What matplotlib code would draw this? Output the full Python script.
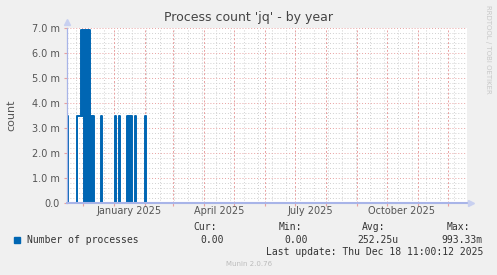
import numpy as np
import pandas as pd
import matplotlib; matplotlib.use("Agg")
import matplotlib.pyplot as plt

# ---- data (daily averages) ----
START, END = "2024-11-15", "2025-12-18"
EVENT_DAYS = ["2024-11-15", "2024-11-25", "2024-11-26", "2024-11-27", "2024-11-28",
              "2024-11-29", "2024-11-30", "2024-12-01", "2024-12-03", "2024-12-05",
              "2024-12-07", "2024-12-09", "2024-12-11", "2024-12-19",
              "2025-01-02", "2025-01-06", "2025-01-14", "2025-01-16", "2025-01-18",
              "2025-01-22", "2025-02-01"]
EVENT_VALS = [0.00347, 0.00347, 0.00347, 0.00347, 0.00347,
              0.00694, 0.00347, 0.00694, 0.00694, 0.00694,
              0.00694, 0.00347, 0.00347, 0.00347,
              0.00347, 0.00347, 0.00347, 0.00347, 0.00347,
              0.00347, 0.00347]
YTICKS = [0.0, 0.001, 0.002, 0.003, 0.004, 0.005, 0.006, 0.007]
YLABELS = ["0.0", "1.0 m", "2.0 m", "3.0 m", "4.0 m", "5.0 m", "6.0 m", "7.0 m"]
XLABELS = ["January 2025", "April 2025", "July 2025", "October 2025"]
XLABEL_POS = ["2025-01-16", "2025-04-16", "2025-07-16", "2025-10-16"]
LEGEND = "Number of processes"
STATS_HDR = ["Cur:", "Min:", "Avg:", "Max:"]
STATS_VAL = ["0.00", "0.00", "252.25u", "993.33m"]

W, H = 497, 275
BG = "#f0f0f0"
LINE = "#0066b3"
AXC = "#a8b4e8"
MAJ = "#e8a0a0"
MIN = "#d0d0d0"

s = pd.Series(0.0, index=pd.date_range(START, END, freq="D"))
s[pd.to_datetime(EVENT_DAYS)] = EVENT_VALS

fig = plt.figure(figsize=(W / 100, H / 100), dpi=100, facecolor=BG)
ax = fig.add_axes([67 / W, 1 - 203 / H, 400 / W, 175 / H], facecolor="white")

def fx(px): return px / W
def fy(py): return 1 - py / H

x0 = pd.Timestamp("2024-11-15"); x1 = x0 + pd.Timedelta(days=400)
ax.set_xlim(x0, x1); ax.set_ylim(0, 0.007)

# grid
for y in np.arange(0.0002, 0.007, 0.0002):
    if abs(y * 1000 - round(y * 1000)) > 1e-6:
        ax.axhline(y, color=MIN, lw=0.7, ls=(0, (1, 2)), zorder=0)
for y in YTICKS[1:]:
    ax.axhline(y, color=MAJ, lw=0.7, ls=(0, (1, 2)), zorder=0.5)
for d in pd.date_range("2024-11-24", x1, freq="14D"):
    ax.axvline(d, color=MIN, lw=0.7, ls=(0, (1, 2)), zorder=0)
months = pd.date_range("2024-12-01", x1, freq="MS")
for d in months:
    ax.axvline(d, color=MAJ, lw=0.7, ls=(0, (2, 2)), zorder=0.5)

ax.step(s.index, s.values, where="post", color=LINE, lw=1.4, zorder=2)

for sp in ["top", "right"]:
    ax.spines[sp].set_visible(False)
ax.spines["left"].set_color(AXC); ax.spines["left"].set_linewidth(0.9)
ax.spines["bottom"].set_color(AXC); ax.spines["bottom"].set_linewidth(1.5)
ax.spines["left"].set_zorder(3); ax.spines["bottom"].set_zorder(3)

ax.set_yticks(YTICKS, YLABELS)
ax.tick_params(axis="y", length=2, color=MAJ, labelsize=7, labelcolor="#555555", pad=3)
ax.set_xticks(months)
ax.set_xticklabels([""] * len(months))
ax.tick_params(axis="x", length=2, color=MAJ)
for lab, pos in zip(XLABELS, XLABEL_POS):
    ax.text(pd.Timestamp(pos), -0.00012, lab, ha="center", va="top", fontsize=7,
            color="#555555")

# axis arrows
ax.plot([x0], [0.00726], marker="^", ms=4, color="#c8d0f0", clip_on=False, zorder=4)
ax.plot([x1 + pd.Timedelta(days=4)], [0], marker=">", ms=4, color="#c8d0f0",
        clip_on=False, zorder=4)

fig.text(0.5, fy(18), "Process count 'jq' - by year", ha="center", va="center",
         fontsize=9, color="#444444")
fig.text(fx(11), fy(115), "count", rotation=90, ha="center", va="center",
         fontsize=8, color="#555555")
fig.text(fx(488), fy(5), "RRDTOOL / TOBI OETIKER", rotation=270, ha="center",
         va="top", fontsize=5, color="#c8c8c8")

mono = dict(family="DejaVu Sans Mono", fontsize=7, color="#333333", va="center")
fig.patches.append(plt.Rectangle((fx(14), fy(243)), 6 / W, 6 / H,
                                 transform=fig.transFigure, color=LINE))
fig.text(fx(27), fy(240), LEGEND, **mono)
for hdr, hx in zip(STATS_HDR, [217, 302, 385, 470]):
    fig.text(fx(hx), fy(227), hdr, ha="right", **mono)
for val, vx in zip(STATS_VAL, [224, 308, 398, 483]):
    fig.text(fx(vx), fy(240), val, ha="right", **mono)
fig.text(fx(483), fy(252), "Last update: Thu Dec 18 11:00:12 2025", ha="right", **mono)
fig.text(fx(249), fy(264), "Munin 2.0.76", ha="center", va="center",
         fontsize=5, color="#bbbbbb")

fig.savefig("out.png", dpi=100, facecolor=BG)
